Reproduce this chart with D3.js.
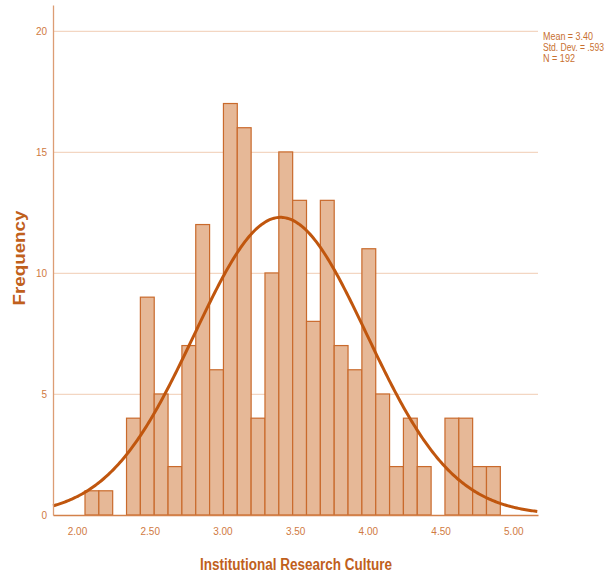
<!DOCTYPE html>
<html>
<head>
<meta charset="utf-8">
<script src="https://cdn.jsdelivr.net/npm/d3@7"></script>
<style>
    body { margin: 0; background: #fff; }
    svg { display: block; }
</style>
</head>
<body>
<div id="chart"></div>
<script>
// histogram data
var binStart = 2.055;
var binWidth = 0.0952;
var counts = [1, 1, 0, 4, 9, 5, 2, 7, 12, 6, 17, 16, 4, 10, 15, 13, 8, 13, 7, 6, 11, 5, 2, 4, 2, 0, 4, 4, 2, 2];
var xTicks = [2.00, 2.50, 3.00, 3.50, 4.00, 4.50, 5.00];
var yTicks = [0, 5, 10, 15, 20];
var statMean = 3.40;
var statSd = 0.593;
var statN = 192;
var statLines = ["Mean = 3.40", "Std. Dev. = .593", "N = 192"];
var statWidths = [50, 61, 32];

var width = 608, height = 575;
var plotLeft = 53, plotRight = 538, plotTop = 5, plotBottom = 515;

var svg = d3.select("#chart").append("svg")
    .attr("width", width)
    .attr("height", height);

var x = d3.scaleLinear().domain([1.835, 5.17]).range([plotLeft, plotRight]);
var y = d3.scaleLinear().domain([0, 21.07]).range([plotBottom, plotTop]);

// grid lines
svg.selectAll(".grid")
    .data(yTicks.filter(function(d) { return d > 0; }))
    .enter().append("line")
    .attr("class", "grid")
    .attr("x1", plotLeft)
    .attr("x2", plotRight)
    .attr("y1", function(d) { return y(d) + 0.5; })
    .attr("y2", function(d) { return y(d) + 0.5; })
    .attr("stroke", "#f3d6c2")
    .attr("stroke-width", 1.2);

// bars
var bins = counts.map(function(c, i) {
    return { x0: binStart + i * binWidth, x1: binStart + (i + 1) * binWidth, count: c };
});

svg.selectAll(".bar")
    .data(bins.filter(function(d) { return d.count > 0; }))
    .enter().append("rect")
    .attr("class", "bar")
    .attr("x", function(d) { return x(d.x0); })
    .attr("y", function(d) { return y(d.count); })
    .attr("width", function(d) { return x(d.x1) - x(d.x0); })
    .attr("height", function(d) { return y(0) - y(d.count); })
    .attr("fill", "#e6b897")
    .attr("stroke", "#c96a2c")
    .attr("stroke-width", 1.2);

// normal curve
var curvePts = d3.range(1.835, 5.171, 0.01).map(function(v) {
    var z = (v - statMean) / statSd;
    return [v, statN * binWidth / (statSd * Math.sqrt(2 * Math.PI)) * Math.exp(-0.5 * z * z)];
});

svg.append("path")
    .datum(curvePts)
    .attr("fill", "none")
    .attr("stroke", "#c0560e")
    .attr("stroke-width", 3)
    .attr("d", d3.line()
        .x(function(d) { return x(d[0]); })
        .y(function(d) { return y(d[1]); }));

// axes
var yAxis = svg.append("g")
    .attr("transform", "translate(" + plotLeft + ",0)")
    .call(d3.axisLeft(y).tickValues(yTicks).tickSize(0).tickPadding(6).tickFormat(d3.format("d")));
yAxis.select(".domain").attr("stroke", "#dc9d74").attr("stroke-width", 1.3);

var xAxis = svg.append("g")
    .attr("transform", "translate(0," + plotBottom + ")")
    .call(d3.axisBottom(x).tickValues(xTicks).tickSize(0).tickPadding(13).tickFormat(d3.format(".2f")));
xAxis.select(".domain").attr("stroke", "#d3814a").attr("stroke-width", 1.5);

svg.selectAll(".tick text")
    .attr("fill", "#d07a42")
    .attr("font-family", "Liberation Sans, Arial, sans-serif")
    .attr("font-size", "10px");

// axis titles
svg.append("text")
    .attr("transform", "translate(25,258) rotate(-90)")
    .attr("text-anchor", "middle")
    .attr("font-family", "Liberation Sans, Arial, sans-serif")
    .attr("font-weight", "bold")
    .attr("font-size", "16px")
    .attr("textLength", 95)
    .attr("lengthAdjust", "spacingAndGlyphs")
    .attr("fill", "#c0601c")
    .text("Frequency");

svg.append("text")
    .attr("x", 296)
    .attr("y", 570)
    .attr("text-anchor", "middle")
    .attr("font-family", "Liberation Sans, Arial, sans-serif")
    .attr("font-weight", "bold")
    .attr("font-size", "16px")
    .attr("textLength", 192)
    .attr("lengthAdjust", "spacingAndGlyphs")
    .attr("fill", "#c0601c")
    .text("Institutional Research Culture");

// stats box
svg.selectAll(".stat")
    .data(statLines)
    .enter().append("text")
    .attr("class", "stat")
    .attr("x", 543)
    .attr("y", function(d, i) { return 40 + i * 11; })
    .attr("font-family", "Liberation Sans, Arial, sans-serif")
    .attr("font-size", "10px")
    .attr("textLength", function(d, i) { return statWidths[i]; })
    .attr("lengthAdjust", "spacingAndGlyphs")
    .attr("fill", "#c8702f")
    .text(function(d) { return d; });
</script>
</body>
</html>
